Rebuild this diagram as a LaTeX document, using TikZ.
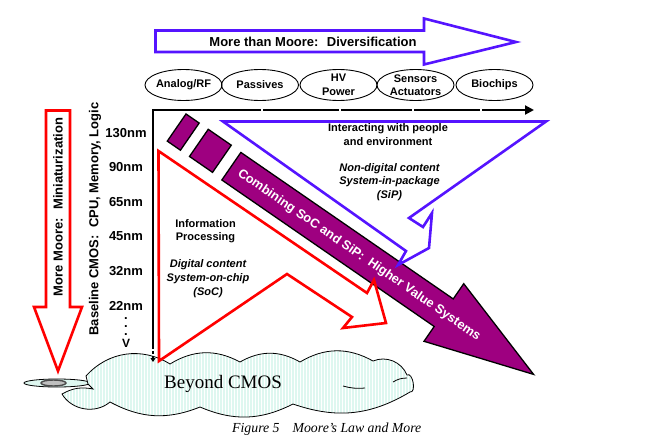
\documentclass[tikz,border=0pt]{standalone}
\usepackage{fontspec}
\setmainfont{Liberation Sans}
\newfontfamily\serifont{Liberation Serif}
\usetikzlibrary{shapes.geometric,arrows.meta,patterns}
\definecolor{mblue}{RGB}{85,20,255}
\definecolor{mred}{RGB}{255,0,0}
\definecolor{mpurple}{RGB}{158,0,128}
\definecolor{mcloud}{RGB}{222,247,240}
\begin{document}
\begin{tikzpicture}[x=1pt, y=-1pt,
  bb/.style={font=\bfseries\fontsize{11}{13.5}\selectfont, align=center, inner sep=0pt},
  it/.style={font=\bfseries\itshape\fontsize{11}{13.8}\selectfont, align=center, inner sep=0pt},
  nm/.style={font=\bfseries\fontsize{13}{15}\selectfont, inner sep=0pt},
  oval/.style={draw, ellipse, minimum width=77pt, minimum height=31pt, inner sep=0pt, line width=0.9pt},
  axis/.style={line width=2pt},
  redline/.style={draw=mred, line width=2.6pt},
  blueline/.style={draw=mblue, line width=2.6pt},
  purp/.style={fill=mpurple, draw=black, line width=1.3pt},
]
\useasboundingbox (0,0) rectangle (663,436);

% ---------- top arrow: More than Moore ----------
\draw[blueline] (155.5,30.5) -- (424,30.5) -- (424,18.5) -- (516,42) -- (424,64.5) -- (424,52) -- (155.5,52) -- cycle;
\node[nm] (mtm) at (313,42) {More than Moore:~ Diversification};

% ---------- ellipses ----------
\node[oval] (e1) at (183.5,85) {};
\node[oval] (e2) at (260,85) {};
\node[oval] (e3) at (338.5,85) {};
\node[oval] (e4) at (415.5,85) {};
\node[oval] (e5) at (494.5,85) {};
\node[bb] (l1) at (e1) {Analog/RF};
\node[bb] (l2) at (e2) {Passives};
\node[bb] (l3) at (e3) {HV\\Power};
\node[bb] (l4) at (e4) {Sensors\\Actuators};
\node[bb] (l5) at (e5) {Biochips};

% ---------- cloud ----------
\node[draw, ellipse, fill=mcloud, minimum width=66pt, minimum height=8pt, inner sep=0pt, line width=0.8pt] (t1) at (57,383) {};
\node[draw=black!70, ellipse, fill=black!25, minimum width=25pt, minimum height=6pt, inner sep=0pt, line width=1.4pt] (t2) at (53.5,383) {};
\path[draw=black, line width=0.8pt, preaction={fill=mcloud}, preaction={pattern=vertical lines, pattern color=white}]
 (86,376) to[bend left=40] (170,364) to[bend left=30] (240,362) to[bend left=30] (300,362)
 to[bend left=30] (373,361) to[bend left=45] (407,375)
 to[bend left=110] (410,392) to[bend left=25] (293,404) to[bend left=25] (200,407)
 to[bend left=25] (110,402) to[bend left=50] (62,394)
 to[bend left=20] (93,389) -- (88,384) -- cycle;
\draw[line width=0.8pt] (393,382) to[bend left=15] (407,378);
\draw[line width=0.8pt] (343,386) to[bend right=10] (365,388);
\node[font=\serifont\fontsize{19}{22}\selectfont, inner sep=0pt, anchor=base] (bc) at (223,388) {Beyond CMOS};

% ---------- axes ----------
\coordinate (o) at (153,110);
\coordinate (vm) at (153,346);
\coordinate (ve) at (153,362);
\coordinate (h1) at (261,110);
\coordinate (h2a) at (263,110);
\coordinate (h2) at (339,110);
\coordinate (h3a) at (341,110);
\coordinate (h3) at (412,110);
\coordinate (h4a) at (414,110);
\coordinate (h4) at (480,110);
\coordinate (h5a) at (482,110);
\coordinate (he) at (534,110);
\draw[axis] (vm) -- (o) -- (h1);
\draw[axis] (h2a) -- (h2);
\draw[axis] (h3a) -- (h3);
\draw[axis] (h4a) -- (h4);
\draw[axis, -{Triangle[length=9pt,width=9pt]}] (h5a) -- (he);
\draw[line width=1.6pt, densely dashed, -{Triangle[length=4pt,width=5pt]}] (vm) -- (ve);

% ---------- nm labels ----------
\node[nm] (n130) at (126,133) {130nm};
\node[nm] (n90) at (126,167) {90nm};
\node[nm] (n65) at (126,202) {65nm};
\node[nm] (n45) at (126,236) {45nm};
\node[nm] (n32) at (126,271) {32nm};
\node[nm] (n22) at (126,306) {22nm};
\node[nm, anchor=base] (d1) at (126,319) {.};
\node[nm, anchor=base] (d2) at (126,327) {.};
\node[nm, anchor=base] (d3) at (126,335) {.};
\node[nm, font=\bfseries\fontsize{12}{14}\selectfont] (vv) at (126,343) {V};
\node[nm, rotate=90] (base) at (95,219) {Baseline CMOS:~ CPU, Memory, Logic};

% ---------- red down arrow ----------
\draw[redline] (46,110.5) -- (70,110.5) -- (70,307) -- (82,307) -- (58,371) -- (34,307) -- (46,307) -- cycle;
\node[nm, rotate=90] (mm) at (58,207) {More Moore:~ Miniaturization};

% ---------- purple arrow ----------
\begin{scope}[shift={(231.5,166)}, rotate=-34.6]
  \path[purp] (-67,-17) rectangle (-51,16);
  \path[purp] (-40,-17) rectangle (-12,16);
  \path[purp] (0,-16.5) -- (258,-16.5) -- (258,-35) -- (367,0) -- (258,35) -- (258,17) -- (0,17) -- cycle;
  \node[rotate=-34.6, text=white, font=\bfseries\fontsize{12.8}{15}\selectfont, inner sep=0pt] (sip) at (155.6,1) {Combining SoC and SiP:~ Higher Value Systems};
\end{scope}

% ---------- red SoC shape ----------
\draw[redline] (158.5,151) -- (367,293) -- (374,280) -- (386,323) -- (343,328) -- (352,317) -- (287,274) -- (159,361) -- cycle;
\node[bb] (ip) at (205.5,231) {Information\\Processing};
\node[it] (soc) at (208,278.5) {Digital content\\System-on-chip\\(SoC)};

% ---------- blue SiP shape ----------
\draw[blueline] (223,121.5) -- (546,121.5) -- (409,218) -- (423,227) -- (432,213) -- (429,248) -- (398,265) -- (406,251) -- cycle;
\node[bb] (iw) at (388,134.5) {Interacting with people\\and environment};
\node[it] (ndc) at (389.5,182) {Non-digital content\\System-in-package\\(SiP)};

% ---------- caption ----------
\node[font=\serifont\itshape\fontsize{13.8}{16}\selectfont, inner sep=0pt, anchor=base west] (cap) at (232,432) {Figure 5\hspace{13pt}Moore’s Law and More};
\end{tikzpicture}
\end{document}
